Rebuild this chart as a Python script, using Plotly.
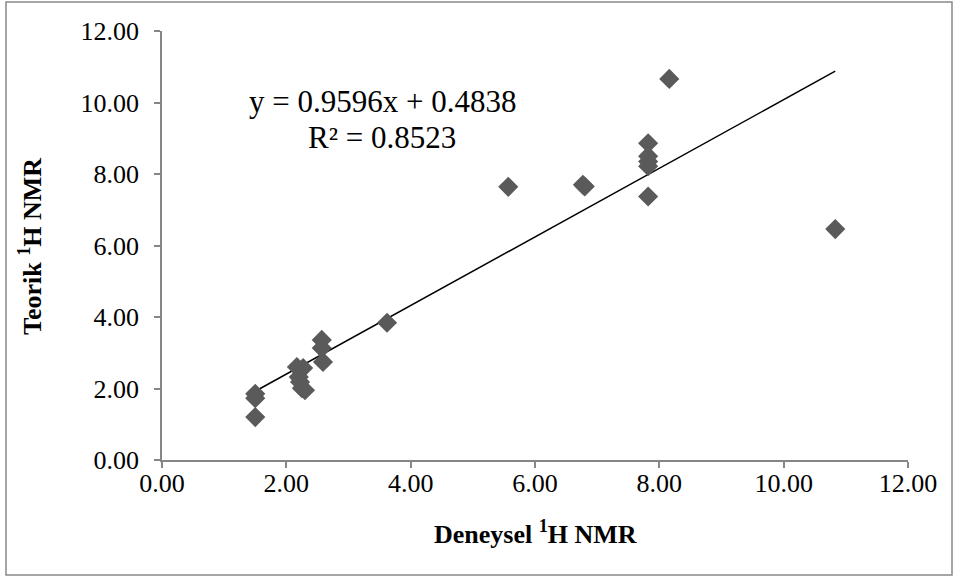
import plotly.graph_objects as go

# Experimental (x) vs theoretical (y) 1H NMR shifts
deneysel = [1.50, 1.50, 1.50, 2.17, 2.27, 2.20, 2.22, 2.25, 2.30, 2.57, 2.57, 2.59,
            3.62, 5.57, 6.77, 6.80, 7.82, 7.82, 7.82, 7.82, 7.82, 8.16, 10.83]
teorik = [1.85, 1.73, 1.20, 2.60, 2.57, 2.32, 2.18, 2.01, 1.95, 3.36, 3.13, 2.74,
          3.84, 7.64, 7.70, 7.65, 8.86, 8.50, 8.35, 8.22, 7.37, 10.66, 6.46]

slope = 0.9596
intercept = 0.4838
r2 = 0.8523
fit_x = [min(deneysel), max(deneysel)]
fit_y = [slope * v + intercept for v in fit_x]

tick_vals = [0, 2, 4, 6, 8, 10, 12]
tick_text = ["0.00", "2.00", "4.00", "6.00", "8.00", "10.00", "12.00"]

FONT = "Liberation Serif"

fig = go.Figure()
fig.add_trace(go.Scatter(x=fit_x, y=fit_y, mode="lines",
                         line=dict(color="black", width=1.5), showlegend=False,
                         hoverinfo="skip"))
fig.add_trace(go.Scatter(x=deneysel, y=teorik, mode="markers",
                         marker=dict(symbol="diamond", size=15.5, color="#5a5a5a",
                                     line=dict(width=0)),
                         showlegend=False))

axis_common = dict(range=[0, 12], tickvals=tick_vals, ticktext=tick_text,
                   showgrid=False, zeroline=False, showline=True,
                   linecolor="#868686", linewidth=1.5, ticks="outside",
                   ticklen=6, tickcolor="#868686", tickwidth=1.5,
                   tickfont=dict(family=FONT, size=26, color="black"))

fig.update_xaxes(**axis_common, ticklabelstandoff=-7)
fig.update_yaxes(**axis_common, ticklabelstandoff=10)

W, H = 959, 578
L, R, T, B = 162, 51, 31, 118
pw, ph = W - L - R, H - T - B

def px(xp):
    return (xp - L) / pw

def py(yp):
    return (H - B - yp) / ph

fig.update_layout(
    width=W, height=H,
    margin=dict(l=L, r=R, t=T, b=B),
    plot_bgcolor="white", paper_bgcolor="white",
    font=dict(family=FONT, color="black"),
    shapes=[dict(type="rect", xref="paper", yref="paper",
                 x0=px(6), x1=px(952), y0=py(575), y1=py(2),
                 line=dict(color="#898989", width=1.5), layer="below")],
    annotations=[
        dict(text=f"y = {slope}x + {intercept}", xref="paper", yref="paper",
             x=px(382), y=py(102), xanchor="center", yanchor="middle",
             showarrow=False, font=dict(family=FONT, size=31, color="black")),
        dict(text=f"R² = {r2}", xref="paper", yref="paper",
             x=px(382), y=py(137), xanchor="center", yanchor="middle",
             showarrow=False, font=dict(family=FONT, size=31, color="black")),
        dict(text="<b>Deneysel <sup>1</sup>H NMR</b>", xref="paper", yref="paper",
             x=px(535), y=py(532), xanchor="center", yanchor="middle",
             showarrow=False, font=dict(family=FONT, size=26, color="black")),
        dict(text="<b>Teorik <sup>1</sup>H NMR</b>", xref="paper", yref="paper",
             x=px(30), y=py(247), xanchor="center", yanchor="middle",
             showarrow=False, textangle=-90,
             font=dict(family=FONT, size=26, color="black")),
    ],
)

fig.write_html("out.html", config={"displayModeBar": False},
               post_script="document.body.style.margin='0';")
